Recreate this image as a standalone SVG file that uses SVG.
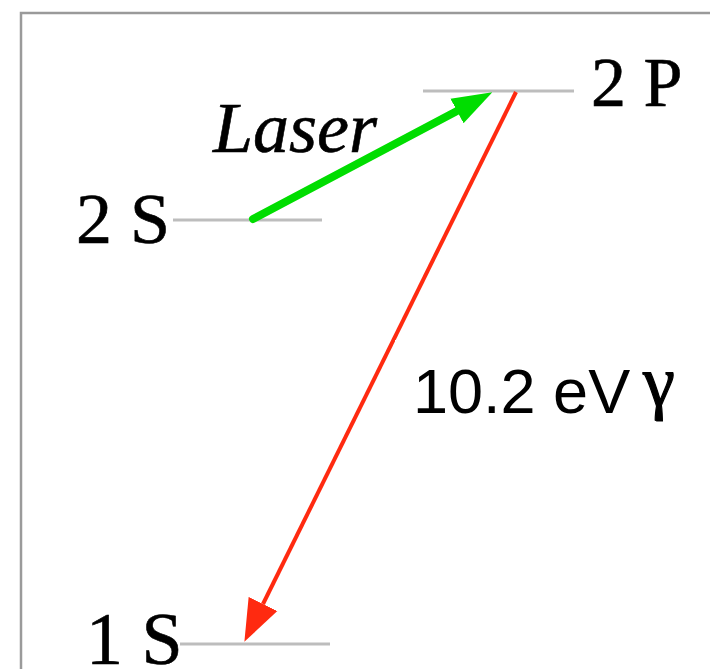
<svg xmlns="http://www.w3.org/2000/svg" width="710" height="669" viewBox="0 0 710 669">
  <style>
    .lvl { stroke: #bdbdbd; stroke-width: 3; fill: none; }
    .lbl { font-family: "Liberation Serif", "Times New Roman", serif; fill: #000; stroke: #000; stroke-width: 0.6; }
    .frame { stroke: #9a9a9a; stroke-width: 2.5; fill: none; }
  </style>
  <defs>
    <marker id="headGreen" markerUnits="userSpaceOnUse" markerWidth="40" markerHeight="32" refX="0" refY="16" orient="auto">
      <path d="M0,2 L40,16 L0,30 z" fill="#00dd00"/>
    </marker>
    <marker id="headRed" markerUnits="userSpaceOnUse" markerWidth="42" markerHeight="34" refX="0" refY="17" orient="auto">
      <path d="M0,1 L42,17 L0,33 z" fill="#ff2a10"/>
    </marker>
  </defs>
  <rect x="0" y="0" width="710" height="669" fill="#ffffff"/>
  <path class="frame" d="M21,669 L21,13 L710,13"/>

  <g id="level-2P">
    <line class="lvl" x1="423" y1="91" x2="574" y2="91"/>
    <text class="lbl" x="591" y="106" font-size="70">2 P</text>
  </g>
  <g id="level-2S">
    <line class="lvl" x1="173" y1="220" x2="322" y2="220" stroke-width="2"/>
    <text class="lbl" x="76" y="243" font-size="72">2 S</text>
  </g>
  <g id="level-1S">
    <line class="lvl" x1="180" y1="644" x2="330" y2="644"/>
    <text class="lbl" x="86" y="664" font-size="74">1 S</text>
  </g>

  <g id="connectors">
    <line x1="253" y1="219" x2="457" y2="111" stroke="#00dd00" stroke-width="8" stroke-linecap="round" marker-end="url(#headGreen)"/>
    <line x1="516" y1="92" x2="263" y2="604" stroke="#ff2a10" stroke-width="4" marker-end="url(#headRed)"/>
  </g>

  <g id="label-laser">
    <text class="lbl" x="213" y="152" font-size="72" font-style="italic">Laser</text>
  </g>
  <g id="label-photon">
    <rect x="395" y="340" width="250" height="80" fill="#ffffff"/>
    <text x="413" y="413" font-family="Liberation Sans, Arial, sans-serif" font-size="63" fill="#000">10.2 eV</text>
    <text class="lbl" x="643" y="406" font-size="72" style="stroke-width:1.2">γ</text>
  </g>
</svg>
